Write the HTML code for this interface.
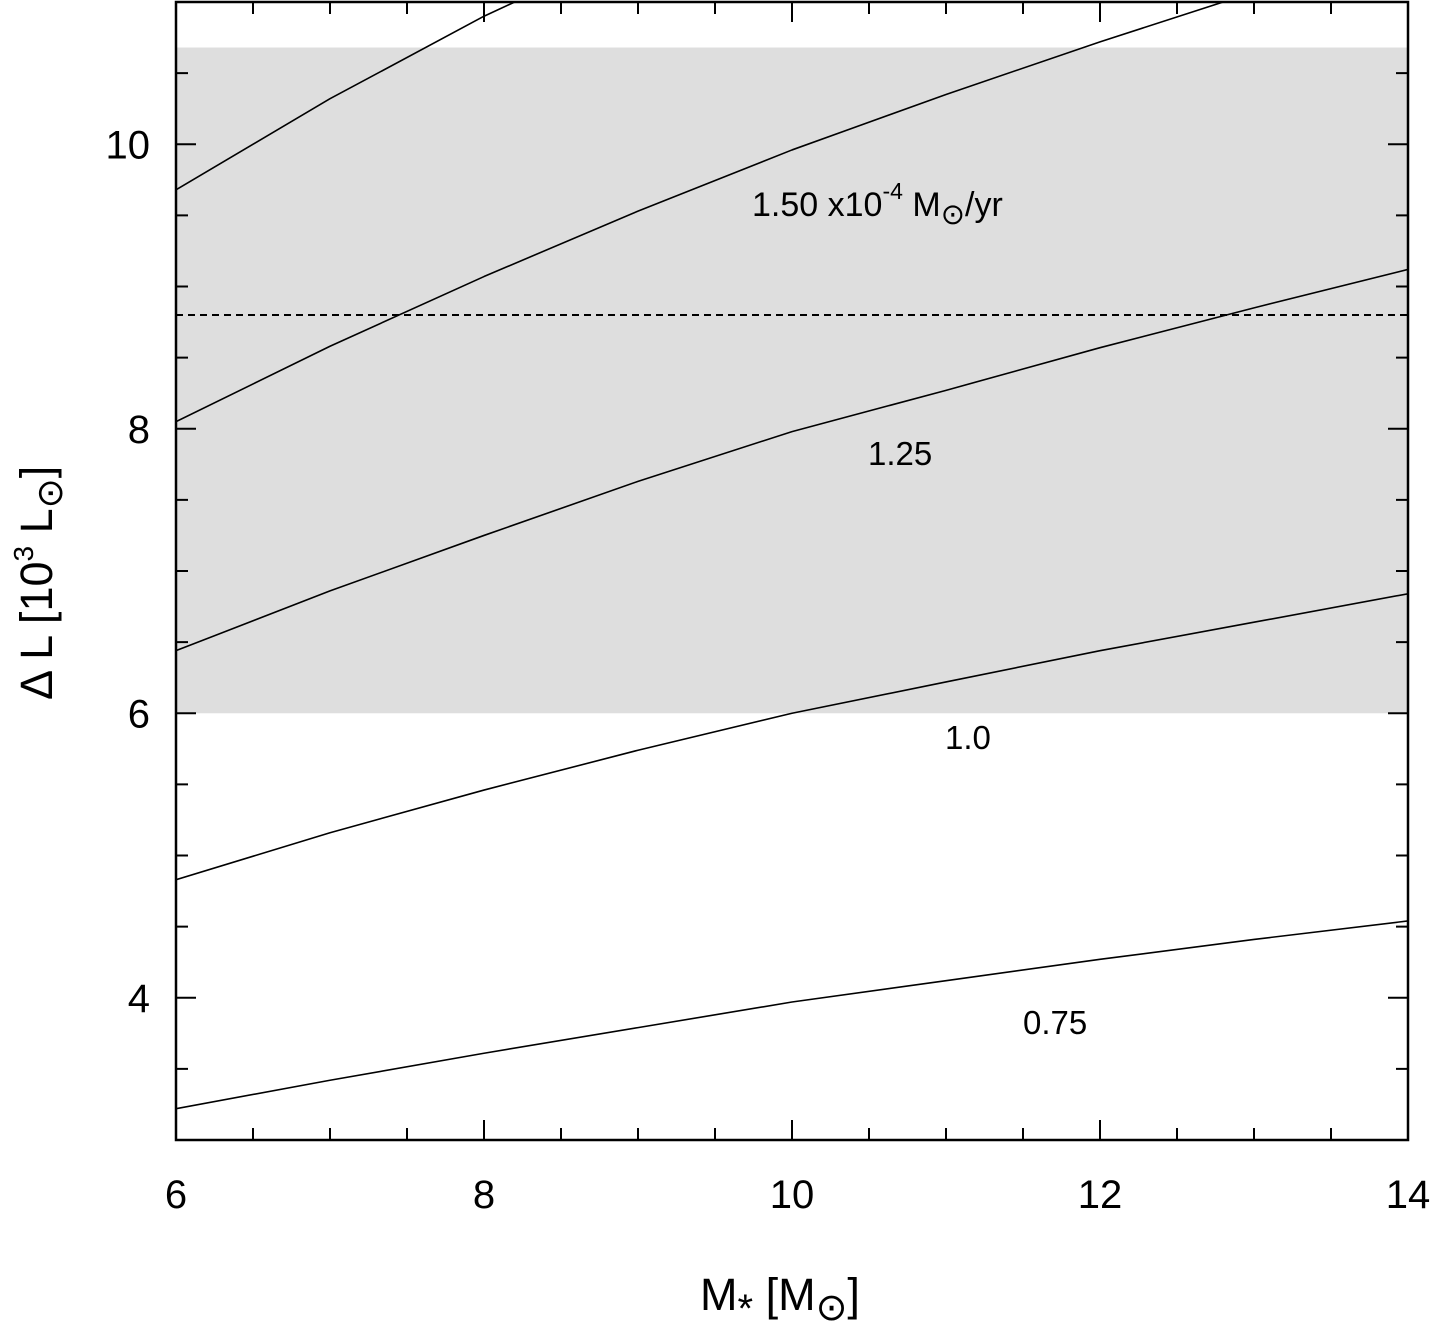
<!DOCTYPE html>
<html><head><meta charset="utf-8"><style>
html,body{margin:0;padding:0;background:#fff}
svg{display:block;font-family:"Liberation Sans",Helvetica,Arial,sans-serif}
.sun{font-family:"DejaVu Sans",sans-serif}
</style></head><body>
<svg width="1432" height="1325" viewBox="0 0 1432 1325" xmlns="http://www.w3.org/2000/svg">
<defs><clipPath id="pc"><rect x="176" y="2" width="1232" height="1138"/></clipPath></defs>
<g id="bg"></g>
<g id="marks" clip-path="url(#pc)"></g>
<g id="axes"></g>
<g id="labels"></g>
<text x="700" y="1310" font-size="45">M<tspan font-size="40" dy="12">*</tspan><tspan dy="-12"> [M</tspan><tspan class="sun" font-size="38" dy="10">⊙</tspan><tspan dy="-10">]</tspan></text>
<text transform="translate(52,700) rotate(-90)" font-size="45">Δ L [10<tspan font-size="28" dy="-19">3</tspan><tspan dy="19"> L</tspan><tspan class="sun" font-size="36" dy="10">⊙</tspan><tspan dy="-10">]</tspan></text>
<text x="752" y="216" font-size="34">1.50 x10<tspan font-size="23" dy="-17">-4</tspan><tspan dy="17"> M</tspan><tspan class="sun" font-size="29" dy="8">⊙</tspan><tspan dy="-8">/yr</tspan></text>
<text x="868" y="465" font-size="33">1.25</text>
<text x="945" y="749" font-size="33">1.0</text>
<text x="1023" y="1034" font-size="33">0.75</text>
</svg>
<script>
const massX = [6, 7, 8, 9, 10, 11, 12, 13, 14];
const rateLabels = ["0.75", "1.0", "1.25", "1.50", "upper"];
const series075 = [3.22, 3.42, 3.61, 3.79, 3.97, 4.12, 4.27, 4.41, 4.54];
const series100 = [4.83, 5.16, 5.46, 5.74, 6.0, 6.22, 6.44, 6.64, 6.84];
const series125 = [6.44, 6.86, 7.25, 7.63, 7.98, 8.27, 8.57, 8.85, 9.12];
const series150 = [8.05, 8.58, 9.07, 9.53, 9.96, 10.35, 10.72, 11.07, 11.40];
const seriesTop = [9.68, 10.32, 10.9, 11.4, 11.9, 12.35, 12.8, 13.2, 13.6];
const bandRange = [6.0, 10.68];
const dashedLevel = [8.8];
const xTicks = [6, 8, 10, 12, 14];
const yTicks = [4, 6, 8, 10];

const X0=6,X1=14,Y0=3,Y1=11,L=176,R=1408,T=2,B=1140;
const sx=v=>L+(v-X0)/(X1-X0)*(R-L);
const sy=v=>B-(v-Y0)/(Y1-Y0)*(B-T);
const NS="http://www.w3.org/2000/svg";
function mk(tag,attrs,parent){const e=document.createElementNS(NS,tag);for(const k in attrs)e.setAttribute(k,attrs[k]);document.getElementById(parent).appendChild(e);return e;}

const band=mk('rect',{x:L,y:sy(bandRange[1]),width:R-L,height:sy(bandRange[0])-sy(bandRange[1]),fill:'#dedede'},'bg');



const dl=mk('line',{x1:L,x2:R,y1:sy(dashedLevel[0]),y2:sy(dashedLevel[0]),stroke:'#000','stroke-width':2,'stroke-dasharray':'7,5'},'marks');



const allSeries=[series075,series100,series125,series150,seriesTop];
allSeries.forEach((s,i)=>{
  const p=mk('polyline',{points:s.map((v,j)=>sx(massX[j])+','+sy(v)).join(' '),fill:'none',stroke:'#000','stroke-width':1.6,'stroke-linejoin':'round'},'marks');
  
  
});

const fr=mk('rect',{x:L,y:T,width:R-L,height:B-T,fill:'none',stroke:'#000','stroke-width':2.5},'axes');


for(let v=6;v<=14.001;v+=0.5){
  const len=(Math.abs(v-Math.round(v/2)*2)<1e-6)?20:12;
  mk('line',{x1:sx(v),x2:sx(v),y1:B,y2:B-len,stroke:'#000','stroke-width':2},'axes');
  mk('line',{x1:sx(v),x2:sx(v),y1:T,y2:T+len,stroke:'#000','stroke-width':2},'axes');
}
for(let v=3;v<=11.001;v+=0.5){
  const len=(Math.abs(v-Math.round(v/2)*2)<1e-6)?20:12;
  mk('line',{x1:L,x2:L+len,y1:sy(v),y2:sy(v),stroke:'#000','stroke-width':2},'axes');
  mk('line',{x1:R,x2:R-len,y1:sy(v),y2:sy(v),stroke:'#000','stroke-width':2},'axes');
}
xTicks.forEach(v=>{const t=mk('text',{x:sx(v),y:1208,'font-size':40,'text-anchor':'middle'},'labels');t.textContent=v;
  });
yTicks.forEach(v=>{const t=mk('text',{x:150,y:sy(v)+14,'font-size':40,'text-anchor':'end'},'labels');t.textContent=v;
  });
</script>
</body></html>
